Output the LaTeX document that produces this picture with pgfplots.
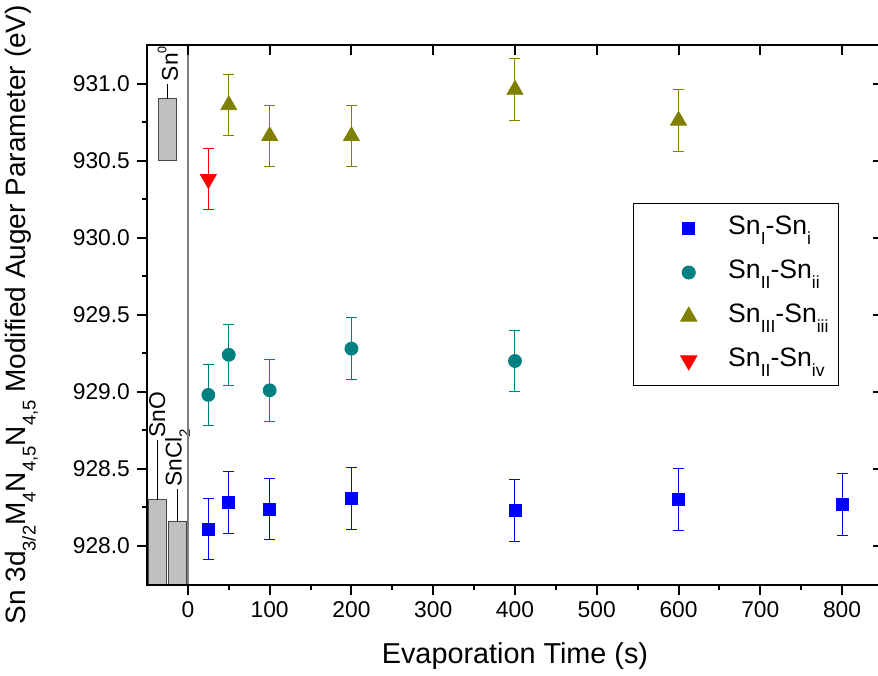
\documentclass[border=0pt]{standalone}
\usepackage{pgfplots}
\pgfplotsset{compat=1.18}
\usepackage{fontspec}
\setmainfont{Liberation Sans}
\newcommand{\sub}[1]{\raisebox{-0.37em}{\scalebox{0.66}{#1}}}
\newcommand{\sups}[1]{\raisebox{0.5em}{\scalebox{0.55}{#1}}}
\definecolor{cblue}{RGB}{0,0,255}
\definecolor{cteal}{RGB}{0,128,128}
\definecolor{colive}{RGB}{128,128,0}
\definecolor{cred}{RGB}{255,0,0}
\definecolor{barfill}{RGB}{192,192,192}
\definecolor{bardraw}{RGB}{70,70,70}
\definecolor{zeroline}{RGB}{128,128,128}
\begin{document}
\begin{tikzpicture}
\begin{axis}[name=main, scale only axis, width=368pt, height=269.75pt,
  xmin=-50, xmax=850, ymin=927.75, ymax=931.25,
  xtick={0,100,...,800}, minor x tick num=1,
  ytick={928,928.5,...,931}, minor y tick num=1,
  xtick pos=left, ytick pos=left, tick align=outside,
  major tick length=5pt, minor tick length=2.5pt,
  tick style={line width=1pt, black},
  axis line style={line width=1pt},
  /pgf/number format/assume math mode=true,
  scaled y ticks=false,
  yticklabel style={/pgf/number format/fixed, /pgf/number format/fixed zerofill, /pgf/number format/precision=1},
  tick label style={font=\fontsize{11.4}{13}\selectfont},
  xlabel={Evaporation Time (s)},
  ylabel={Sn 3d\sub{3/2}M\sub{4}N\sub{4,5}N\sub{4,5} Modified Auger Parameter (eV)},
  every axis x label/.style={at={(axis description cs:0.5,0)}, anchor=base, yshift=-39.25pt, font=\fontsize{14.4}{17}\selectfont},
  every axis y label/.style={at={(axis description cs:0,0.5)}, xshift=-51pt, rotate=90, anchor=south, font=\fontsize{14}{17}\selectfont},
  legend style={at={(0.660,0.7071)}, anchor=north west, draw=black, line width=0.5pt,
    inner xsep=3pt, inner ysep=4.5pt, row sep=6pt,
    nodes={inner sep=2pt, text height=9pt, text depth=3pt},
    font=\fontsize{13.3}{15}\selectfont},
  legend cell align=left,
  legend image code/.code={\path (0pt,0pt) (42pt,0pt); \draw[#1] plot coordinates {(24.5pt,0pt)};},
  error bars/error bar style={line width=0.5pt},
  error bars/error mark options={rotate=90, line width=0.5pt, mark size=2.75pt},
]
% reference bars
\addplot[fill=barfill, draw=bardraw, line width=0.5pt, forget plot] coordinates {(-48.5,927.75) (-48.5,928.3) (-26.5,928.3) (-26.5,927.75)} -- cycle;
\addplot[fill=barfill, draw=bardraw, line width=0.5pt, forget plot] coordinates {(-24,927.75) (-24,928.16) (-1.5,928.16) (-1.5,927.75)} -- cycle;
\addplot[fill=barfill, draw=bardraw, line width=0.5pt, forget plot] coordinates {(-35.5,930.5) (-35.5,930.9) (-13.5,930.9) (-13.5,930.5)} -- cycle;
% leader lines
\addplot[black, line width=0.5pt, forget plot] coordinates {(-37.5,928.3) (-37.5,928.69)};
\addplot[black, line width=0.5pt, forget plot] coordinates {(-12.75,928.16) (-12.75,928.37)};
\addplot[black, line width=0.5pt, forget plot] coordinates {(-24.5,930.9) (-24.5,931.0)};
\node[rotate=90, anchor=west, inner sep=1pt, font=\fontsize{11.4}{13}\selectfont] at (axis cs:-37.5,928.69) {SnO};
\node[rotate=90, anchor=west, inner sep=1pt, font=\fontsize{11.4}{13}\selectfont] at (axis cs:-12.75,928.37) {SnCl\sub{2}};
\node[rotate=90, anchor=west, inner sep=1pt, font=\fontsize{11.4}{13}\selectfont] at (axis cs:-24.5,931.0) {Sn\sups{0}};
% zero line
\addplot[zeroline, line width=0.75pt, forget plot] coordinates {(0,927.75) (0,931.25)};
% data
\addplot[only marks, color=cblue, mark=square*, mark size=3pt,
  error bars/.cd, y dir=both, y explicit] coordinates {
  (25,928.11) +- (0,0.2)
  (50,928.28) +- (0,0.2)
  (100,928.24) +- (0,0.2)
  (200,928.31) +- (0,0.2)
  (400,928.23) +- (0,0.2)
  (600,928.30) +- (0,0.2)
  (800,928.27) +- (0,0.2)
};
\addlegendentry{Sn\sub{I}-Sn\sub{i}}
\addplot[only marks, color=cteal, mark=*, mark size=3.25pt,
  error bars/.cd, y dir=both, y explicit] coordinates {
  (25,928.98) +- (0,0.2)
  (50,929.24) +- (0,0.2)
  (100,929.01) +- (0,0.2)
  (200,929.28) +- (0,0.2)
  (400,929.20) +- (0,0.2)
};
\addlegendentry{Sn\sub{II}-Sn\sub{ii}}
\addplot[only marks, color=colive, mark=triangle*, mark size=4.6pt,
  error bars/.cd, y dir=both, y explicit] coordinates {
  (50,930.86) +- (0,0.2)
  (100,930.66) +- (0,0.2)
  (200,930.66) +- (0,0.2)
  (400,930.96) +- (0,0.2)
  (600,930.76) +- (0,0.2)
};
\addlegendentry{Sn\sub{III}-Sn\sub{iii}\hspace{3pt}}
\addplot[only marks, color=cred, mark=triangle*, mark size=4.6pt, mark options={rotate=180},
  error bars/.cd, y dir=both, y explicit] coordinates {
  (25,930.38) +- (0,0.2)
};
\addlegendentry{Sn\sub{II}-Sn\sub{iv}}
\end{axis}
\begin{axis}[at={(main.south west)}, anchor=south west, scale only axis, width=368pt, height=269.75pt,
  xmin=-50, xmax=850, ymin=927.75, ymax=931.25,
  xtick={0,100,...,800}, ytick={928,928.5,...,931}, minor y tick num=1,
  xtick pos=right, ytick pos=right, tick align=inside,
  major tick length=5pt, minor tick length=2.5pt,
  tick style={line width=1pt, black},
  axis line style={line width=1pt},
  xticklabels={}, yticklabels={}]
\addplot[draw=none] coordinates {(0,929)};
\end{axis}
\pgfresetboundingbox
\path ([shift={(-73.5pt,-45.25pt)}]main.south west) rectangle ([shift={(365.5pt,292.25pt)}]main.south west);
\end{tikzpicture}
\end{document}
